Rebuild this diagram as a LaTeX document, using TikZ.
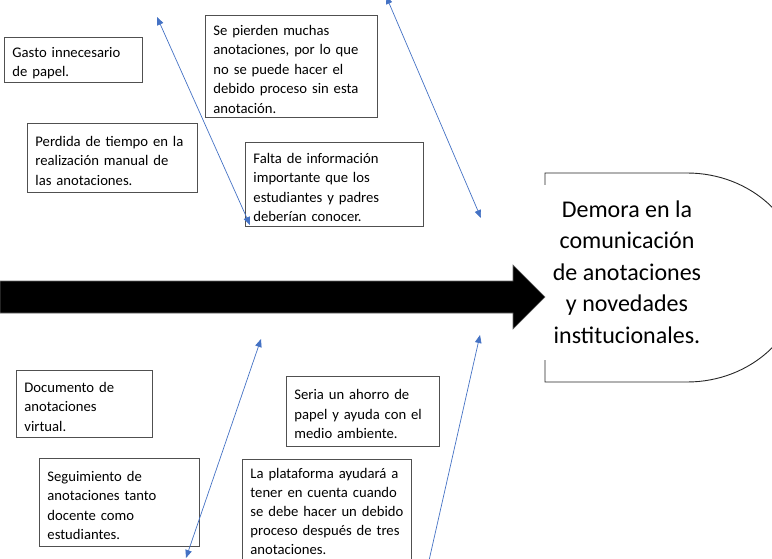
\documentclass[tikz,border=0pt]{standalone}
\usepackage{fontspec}
\setmainfont{Carlito}
\usetikzlibrary{arrows.meta}
\definecolor{acc}{RGB}{68,114,196}
\definecolor{boxline}{RGB}{80,80,80}
\newcommand{\topstrut}{\rule{0pt}{16pt}}
\tikzset{
  tbox/.style={draw=boxline, line width=0.9pt, fill=white, anchor=north west,
    inner xsep=8pt, inner ysep=1pt, align=left,
    font=\fontsize{14.67}{19.5}\selectfont},
  conn/.style={draw=acc, line width=0.7pt},
  tip/.style={-{Triangle[length=8pt,width=6.5pt]}},
  tips/.style={{Triangle[length=8pt,width=6.5pt]}-{Triangle[length=8pt,width=6.5pt]}}
}
\begin{document}
\begin{tikzpicture}[x=1pt,y=-1pt]
\useasboundingbox (0,0) rectangle (772,559);
\begin{scope}
\clip (0,0) rectangle (772,559);
% main arrow
\draw[fill=black, draw=black!60, line width=0.6pt]
  (0,281) -- (513,281) -- (513,265) -- (545,297) -- (513,329) -- (513,313) -- (0,313) -- cycle;
% head shape
\draw[line width=0.9pt, draw=black!85] (545,185) -- (545,173) -- (687,173)
  arc[start angle=-90, end angle=90, x radius=115, y radius=104.5]
  -- (545,382) -- (545,360);
\node[font=\fontsize{24}{31.5}\selectfont, align=center] (head) at (627,272)
  {Demora en la\\comunicación\\de anotaciones\\y novedades\\institucionales.};

% connector end points
\coordinate (a1) at (157,17);  \coordinate (a2) at (250,225);
\coordinate (b1) at (386,-4);  \coordinate (b2) at (481,218);
\coordinate (c1) at (261,339); \coordinate (c2) at (186,558);
\coordinate (d1) at (480,335); \coordinate (d2) at (428,565);

% boxes
\node[tbox, minimum width=138pt, minimum height=45pt, text width=122pt] (g) at (4,37)
  {\topstrut Gasto innecesario\\de papel.};
\node[tbox, minimum width=170pt, minimum height=69pt, text width=154pt] (p) at (27,123)
  {\topstrut Perdida de tiempo en la\\realización manual de\\las anotaciones.};
\node[tbox, minimum width=172pt, minimum height=102pt, text width=156pt] (s) at (205,15)
  {\topstrut Se pierden muchas\\anotaciones, por lo que\\no se puede hacer el\\debido proceso sin esta\\anotación.};
\node[tbox, minimum width=178pt, minimum height=84pt, text width=162pt] (f) at (245,142)
  {\topstrut Falta de información\\importante que los\\estudiantes y padres\\deberían conocer.};
\node[tbox, minimum width=136pt, minimum height=67pt, text width=120pt] (d) at (16,370)
  {\topstrut Documento de\\anotaciones\\virtual.};
\node[tbox, minimum width=160pt, minimum height=88pt, text width=144pt] (sg) at (39,458)
  {\topstrut Seguimiento de\\anotaciones tanto\\docente como\\estudiantes.};
\node[tbox, minimum width=153pt, minimum height=70pt, text width=137pt] (ah) at (286,376)
  {\topstrut Seria un ahorro de\\papel y ayuda con el\\medio ambiente.};
\node[tbox, minimum width=169pt, minimum height=104pt, text width=153pt,
  font=\fontsize{14.67}{19}\selectfont] (pl) at (242,459)
  {La plataforma ayudará a\\tener en cuenta cuando\\se debe hacer un debido\\proceso después de tres\\anotaciones.};

\draw[conn, tips] (a1) -- (a2);
\draw[conn, tips] (b1) -- (b2);
\draw[conn, tips] (c1) -- (c2);
\draw[conn, tip] (d2) -- (d1);
\end{scope}
\end{tikzpicture}
\end{document}
